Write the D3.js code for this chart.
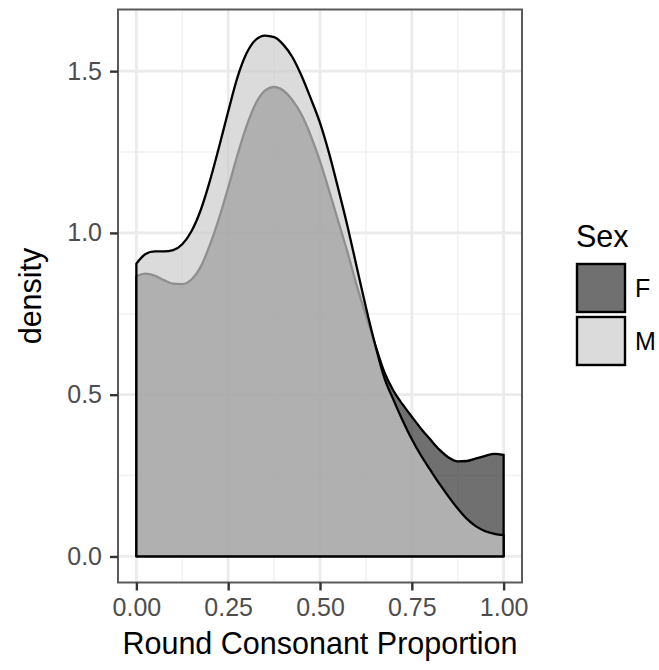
<!DOCTYPE html>
<html>
<head>
<meta charset="utf-8">
<script src="https://cdn.jsdelivr.net/npm/d3@7/dist/d3.min.js"></script>
<style>
  html, body { margin: 0; padding: 0; background: #ffffff; }
  svg { display: block; font-family: "Liberation Sans", Arial, Helvetica, sans-serif; }
</style>
</head>
<body>
<svg id="chart" width="659" height="670"></svg>
<script>
// Sample locations along the proportion axis
const propX = [0.000, 0.025, 0.050, 0.075, 0.100, 0.125, 0.150, 0.175, 0.200, 0.225,
               0.250, 0.275, 0.300, 0.325, 0.350, 0.375, 0.400, 0.425, 0.450, 0.475,
               0.500, 0.525, 0.550, 0.575, 0.600, 0.625, 0.650, 0.675, 0.700, 0.725,
               0.750, 0.775, 0.800, 0.825, 0.850, 0.875, 0.900, 0.925, 0.950, 0.975, 1.000];

// Kernel density estimates per group
const densityF = [0.866, 0.874, 0.868, 0.854, 0.843, 0.842, 0.856, 0.895, 0.962, 1.045,
                  1.140, 1.240, 1.330, 1.400, 1.440, 1.451, 1.440, 1.410, 1.365, 1.300,
                  1.222, 1.130, 1.035, 0.940, 0.838, 0.745, 0.655, 0.570, 0.512, 0.470,
                  0.432, 0.395, 0.362, 0.330, 0.306, 0.294, 0.295, 0.303, 0.311, 0.317, 0.314];
const densityM = [0.905, 0.935, 0.943, 0.943, 0.947, 0.965, 1.005, 1.070, 1.160, 1.265,
                  1.375, 1.480, 1.555, 1.597, 1.610, 1.605, 1.582, 1.543, 1.485, 1.415,
                  1.340, 1.245, 1.135, 1.020, 0.895, 0.770, 0.655, 0.553, 0.484, 0.420,
                  0.362, 0.312, 0.268, 0.225, 0.185, 0.148, 0.116, 0.093, 0.078, 0.070, 0.066];

const groups = ["F", "M"];
const groupFill = { F: "#333333", M: "#cccccc" };
const fillAlpha = 0.7;

const xTicks = [0, 0.25, 0.5, 0.75, 1];
const xTickLabels = ["0.00", "0.25", "0.50", "0.75", "1.00"];
const yTicks = [0, 0.5, 1.0, 1.5];
const yTickLabels = ["0.0", "0.5", "1.0", "1.5"];
const xMinor = [0.125, 0.375, 0.625, 0.875];
const yMinor = [0.25, 0.75, 1.25];

const panel = { left: 118, right: 522, top: 9.5, bottom: 582.5 };

const svg = d3.select("#chart");

const series = groups.map(g => ({
  key: g,
  values: propX.map((x, i) => ({ x: x, d: (g === "F" ? densityF : densityM)[i] }))
}));

const xExt = d3.extent(propX);
const xPad = (xExt[1] - xExt[0]) * 0.05;
const x = d3.scaleLinear().domain([xExt[0] - xPad, xExt[1] + xPad]).range([panel.left, panel.right]);

const yMax = d3.max([...densityF, ...densityM]);
const yPad = yMax * 0.05;
const y = d3.scaleLinear().domain([-yPad, yMax + yPad]).range([panel.bottom, panel.top]);

// Panel background and grid
svg.append("rect")
  .attr("x", panel.left).attr("y", panel.top)
  .attr("width", panel.right - panel.left).attr("height", panel.bottom - panel.top)
  .attr("fill", "#ffffff");

const grid = svg.append("g");
grid.selectAll(".xminor").data(xMinor).join("line")
  .attr("x1", d => x(d)).attr("x2", d => x(d))
  .attr("y1", panel.top).attr("y2", panel.bottom)
  .attr("stroke", "#f2f2f2").attr("stroke-width", 1.6);
grid.selectAll(".yminor").data(yMinor).join("line")
  .attr("y1", d => y(d)).attr("y2", d => y(d))
  .attr("x1", panel.left).attr("x2", panel.right)
  .attr("stroke", "#f2f2f2").attr("stroke-width", 1.6);
grid.selectAll(".xmajor").data(xTicks).join("line")
  .attr("x1", d => x(d)).attr("x2", d => x(d))
  .attr("y1", panel.top).attr("y2", panel.bottom)
  .attr("stroke", "#ebebeb").attr("stroke-width", 2.8);
grid.selectAll(".ymajor").data(yTicks).join("line")
  .attr("y1", d => y(d)).attr("y2", d => y(d))
  .attr("x1", panel.left).attr("x2", panel.right)
  .attr("stroke", "#ebebeb").attr("stroke-width", 2.8);

// Density areas, outlined all round
const area = d3.area()
  .x(p => x(p.x))
  .y0(y(0))
  .y1(p => y(p.d))
  .curve(d3.curveMonotoneX);

svg.append("g").selectAll("path").data(series).join("path")
  .attr("d", s => area(s.values))
  .attr("fill", s => groupFill[s.key])
  .attr("fill-opacity", fillAlpha)
  .attr("stroke", "#000000")
  .attr("stroke-width", 2.3)
  .attr("stroke-linejoin", "round");

// Panel border
svg.append("rect")
  .attr("x", panel.left).attr("y", panel.top)
  .attr("width", panel.right - panel.left).attr("height", panel.bottom - panel.top)
  .attr("fill", "none").attr("stroke", "#5a5a5a").attr("stroke-width", 2);

// Axes
const xAxis = d3.axisBottom(x).tickValues(xTicks)
  .tickFormat((d, i) => xTickLabels[i]).tickSize(8).tickPadding(8);
const gx = svg.append("g").attr("transform", `translate(0,${panel.bottom})`).call(xAxis);
gx.select(".domain").remove();
gx.selectAll(".tick line").attr("stroke", "#333333").attr("stroke-width", 2.4);
gx.selectAll(".tick text").attr("fill", "#4d4d4d").attr("font-size", 25)
  .attr("font-family", "'Liberation Sans', Arial, sans-serif");

const yAxis = d3.axisLeft(y).tickValues(yTicks)
  .tickFormat((d, i) => yTickLabels[i]).tickSize(8).tickPadding(8);
const gy = svg.append("g").attr("transform", `translate(${panel.left},0)`).call(yAxis);
gy.select(".domain").remove();
gy.selectAll(".tick line").attr("stroke", "#333333").attr("stroke-width", 2.4);
gy.selectAll(".tick text").attr("fill", "#4d4d4d").attr("font-size", 25)
  .attr("font-family", "'Liberation Sans', Arial, sans-serif");

// Axis titles
svg.append("text")
  .attr("x", (panel.left + panel.right) / 2).attr("y", 654)
  .attr("text-anchor", "middle").attr("font-size", 30.5).attr("fill", "#000000")
  .text("Round Consonant Proportion");
svg.append("text")
  .attr("transform", `translate(41,${(panel.top + panel.bottom) / 2}) rotate(-90)`)
  .attr("text-anchor", "middle").attr("font-size", 30.5).attr("fill", "#000000")
  .text("density");

// Legend
const legend = svg.append("g").attr("transform", "translate(577,0)");
legend.append("text").attr("x", -1).attr("y", 247)
  .attr("font-size", 30.5).attr("fill", "#000000").text("Sex");
const keys = legend.selectAll("g.key").data(groups).join("g")
  .attr("transform", (d, i) => `translate(0,${264 + i * 53})`);
keys.append("rect")
  .attr("width", 48).attr("height", 48)
  .attr("fill", d => groupFill[d]).attr("fill-opacity", fillAlpha)
  .attr("stroke", "#000000").attr("stroke-width", 2.4);
keys.append("text")
  .attr("x", 58).attr("y", 33)
  .attr("font-size", 25).attr("fill", "#000000")
  .text(d => d);
</script>
</body>
</html>
